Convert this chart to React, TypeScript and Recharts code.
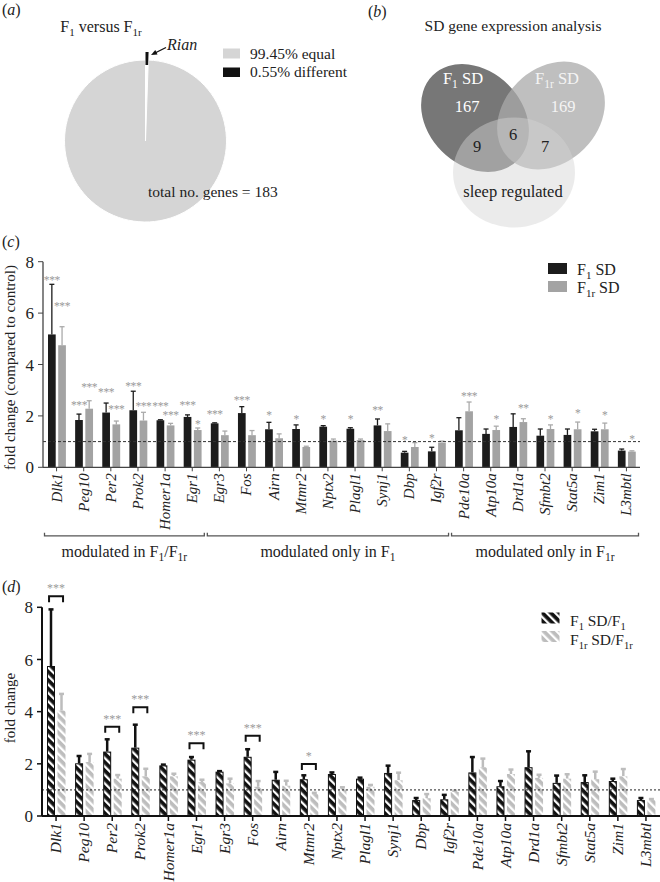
import React from "react";
import {
  BarChart, Bar, XAxis, YAxis, ReferenceLine, ReferenceArea,
  PieChart, Pie, Cell, ScatterChart, Scatter,
} from "recharts";

const FONT = '"Liberation Serif", "Times New Roman", Tinos, "DejaVu Serif", serif';
const INK = "#222";
const STAR = "#9a9a9a";

// (a) F1 versus F1r
const pieNames = ["different", "equal"];
const pieShares = [0.55, 99.45];
const totalGenes = 183;

// (b) SD gene expression analysis
const vennSetNames = ["F_{1} SD", "F_{1r} SD", "sleep regulated"];
const vennCounts = [167, 169, 9, 6, 7]; // F1 only, F1r only, F1∩sleep, all, F1r∩sleep

// (c) / (d) genes
const genes = [
  "Dlk1", "Peg10", "Per2", "Prok2", "Homer1a", "Egr1", "Egr3", "Fos", "Airn", "Mtmr2", "Nptx2",
  "Plagl1", "Synj1", "Dbp", "Igf2r", "Pde10a", "Atp10a", "Drd1a", "Sfmbt2", "Stat5a", "Zim1", "L3mbtl",
];
const groups = [
  { label: "modulated in F_{1}/F_{1r}", from: "Dlk1", to: "Egr1" },
  { label: "modulated only in F_{1}", from: "Egr3", to: "Igf2r" },
  { label: "modulated only in F_{1r}", from: "Pde10a", to: "L3mbtl" },
];

// (c) fold change compared to control
const cF1 = [5.17, 1.84, 2.13, 2.22, 1.83, 1.96, 1.71, 2.11, 1.48, 1.49, 1.58, 1.5, 1.63, 0.57, 0.62, 1.44, 1.3, 1.57, 1.23, 1.26, 1.4, 0.65];
const cF1Err = [1.95, 0.23, 0.37, 0.74, 0.02, 0.08, 0.02, 0.25, 0.27, 0.16, 0.04, 0.04, 0.25, 0.05, 0.16, 0.49, 0.19, 0.51, 0.26, 0.23, 0.08, 0.06];
const cF1r = [4.75, 2.28, 1.67, 1.82, 1.63, 1.45, 1.25, 1.25, 1.13, 0.79, 1.04, 1.06, 1.41, 0.79, 0.96, 2.18, 1.45, 1.76, 1.49, 1.48, 1.48, 0.61];
const cF1rErr = [0.72, 0.31, 0.13, 0.32, 0.08, 0.08, 0.16, 0.18, 0.17, 0.03, 0.06, 0.04, 0.28, 0.17, 0.06, 0.36, 0.15, 0.13, 0.16, 0.28, 0.24, 0.03];
const cF1Sig = ["***", "***", "***", "***", "***", "***", "***", "***", "*", "*", "*", "*", "**", "*", "*", "", "", "", "", "", "", ""];
const cF1rSig = ["***", "***", "***", "***", "***", "*", "", "", "", "", "", "", "", "", "", "***", "*", "**", "*", "*", "*", "*"];
// height (in fold change) at which each significance mark sits
const cF1SigAt = [7.38, 2.49, 3.01, 3.25, 2.46, 2.49, 2.14, 2.68, 2.12, 1.97, 1.95, 1.95, 2.3, 1.13, 1.22, 0, 0, 0, 0, 0, 0, 0];
const cF1rSigAt = [6.35, 3.21, 2.33, 2.46, 2.12, 1.77, 0, 0, 0, 0, 0, 0, 0, 0, 0, 2.85, 1.95, 2.4, 1.97, 2.18, 2.12, 1.17];

// (d) fold change SD / own control
const dF1 = [5.75, 2.02, 2.47, 2.62, 1.94, 2.16, 1.7, 2.27, 1.39, 1.41, 1.61, 1.43, 1.65, 0.61, 0.64, 1.67, 1.14, 1.87, 1.27, 1.3, 1.34, 0.61];
const dF1Err = [2.17, 0.28, 0.47, 0.88, 0.03, 0.1, 0.02, 0.29, 0.3, 0.15, 0.06, 0.04, 0.28, 0.08, 0.17, 0.59, 0.2, 0.61, 0.28, 0.26, 0.09, 0.08];
const dF1r = [4.04, 2.07, 1.43, 1.52, 1.52, 1.3, 1.25, 1.12, 1.16, 0.84, 1.02, 1.12, 1.37, 0.68, 0.92, 1.87, 1.61, 1.46, 1.43, 1.41, 1.52, 0.61];
const dF1rErr = [0.64, 0.31, 0.14, 0.29, 0.1, 0.09, 0.18, 0.22, 0.19, 0.05, 0.08, 0.07, 0.29, 0.16, 0.05, 0.33, 0.17, 0.12, 0.17, 0.29, 0.28, 0.04];
const dSigGenes = ["Dlk1", "Per2", "Prok2", "Egr1", "Fos", "Mtmr2"];
const dSigLevels = [8.42, 3.42, 4.17, 2.79, 3.08, 1.99];
const dSigMarks = ["***", "***", "***", "***", "***", "*"];

const rowsC = genes.map((gene, i) => ({
  gene, f1: cF1[i], f1Err: cF1Err[i], f1Sig: cF1Sig[i], f1SigAt: cF1SigAt[i],
  f1r: cF1r[i], f1rErr: cF1rErr[i], f1rSig: cF1rSig[i], f1rSigAt: cF1rSigAt[i],
}));
const rowsD = genes.map((gene, i) => ({
  gene, f1: dF1[i], f1Err: dF1Err[i], f1r: dF1r[i], f1rErr: dF1rErr[i],
}));

const ff = { fontFamily: FONT };

// "_{...}" marks a subscript
function rich(s: string, subSize: number, shift: number) {
  const parts = s.split(/(_\{[^}]*\})/).filter((p) => p !== "");
  let down = false;
  return parts.map((p, i) => {
    if (p.startsWith("_{")) {
      const el = <tspan key={i} dy={down ? 0 : shift} fontSize={subSize}>{p.slice(2, -1)}</tspan>;
      down = true;
      return el;
    }
    const el = <tspan key={i} dy={down ? -shift : 0}>{p}</tspan>;
    down = false;
    return el;
  });
}

function GeneTick(props: any) {
  const { x, y, payload, size } = props;
  return (
    <text x={x} y={y} transform={`rotate(-90 ${x} ${y})`} textAnchor="end" dy="0.33em"
      fontSize={size} fontStyle="italic" style={ff} fill={INK}>
      {payload.value}
    </text>
  );
}

type ShapeOpts = {
  valKey: string; errKey: string; sigKey?: string; sigAtKey?: string;
  fill: string; stroke?: string; errColor: string; errWidth: number;
};

const barShape = (o: ShapeOpts) => (props: any) => {
  const { x, y, width, height, payload } = props;
  const v = payload[o.valKey];
  const ppu = v > 0 ? height / v : 0;
  const cx = x + width / 2;
  const ey = y - payload[o.errKey] * ppu;
  const sig = o.sigKey ? payload[o.sigKey] : "";
  const sy = o.sigAtKey ? y - (payload[o.sigAtKey] - v) * ppu : ey - 8;
  return (
    <g>
      <line x1={cx} x2={cx} y1={y} y2={ey} stroke={o.errColor} strokeWidth={o.errWidth} />
      <line x1={cx - 2.5} x2={cx + 2.5} y1={ey} y2={ey} stroke={o.errColor} strokeWidth={o.errWidth} />
      <rect x={o.stroke ? x + 0.5 : x} y={o.stroke ? y + 0.5 : y} width={o.stroke ? width - 1 : width}
        height={o.stroke ? Math.max(height - 1, 0) : height} fill={o.fill}
        stroke={o.stroke || "none"} strokeWidth={1} />
      {sig ? (
        <text x={cx} y={sy + 6} textAnchor="middle" fontSize={11.5} letterSpacing={-0.4} style={ff}
          fill={STAR}>{sig}</text>
      ) : null}
    </g>
  );
};

const groupShape = (label: string) => (p: any) => {
  const { x, y, width, height } = p;
  const x1 = x + 1.5;
  const x2 = x + width - 1.5;
  const yb = y + height;
  return (
    <g>
      <path d={`M${x1},${y} V${yb} H${x2} V${y}`} fill="none" stroke="#555" strokeWidth={1.3} />
      <text x={(x1 + x2) / 2} y={yb + 21} textAnchor="middle" fontSize={16} style={ff} fill={INK}>
        {rich(label, 11.5, 4)}
      </text>
    </g>
  );
};

const sigShape = (mark: string) => (p: any) => {
  const { x, y, width, height } = p;
  const c = x + width / 2;
  return (
    <g>
      <path d={`M${c - 7},${y + height} V${y} H${c + 7} V${y + height}`} fill="none" stroke="#111" strokeWidth={2} />
      <text x={c} y={y - 4} textAnchor="middle" fontSize={12} style={ff} fill={STAR}>{mark}</text>
    </g>
  );
};

function PiePanel() {
  const rows = pieNames.map((name, i) => ({ name, value: pieShares[i] }));
  return (
    <PieChart width={330} height={230} margin={{ top: 0, right: 0, bottom: 0, left: 0 }}>
      <Pie data={rows} dataKey="value" cx={145.5} cy={141} outerRadius={81} startAngle={90} endAngle={-270}
        stroke="#fff" strokeWidth={1} isAnimationActive={false}>
        <Cell fill="#ffffff" />
        <Cell fill="#d5d5d5" />
      </Pie>
      <Pie data={rows} dataKey="value" cx={145.5} cy={141} innerRadius={76} outerRadius={89} startAngle={90}
        endAngle={-270} stroke="none" isAnimationActive={false}>
        <Cell fill="#111" />
        <Cell fill="transparent" />
      </Pie>
    </PieChart>
  );
}

// ellipse geometry in panel pixels
const vennLayout = [
  { x: 145, y: 118, rx: 60, ry: 47, rot: 45, fill: "#777777", op: 1 },
  { x: 221, y: 115.5, rx: 60, ry: 47, rot: -45, fill: "#aaaaaa", op: 0.75 },
  { x: 184, y: 172.5, rx: 61, ry: 55, rot: 0, fill: "#d3d3d3", op: 0.46 },
];
const vennTextPos = [
  { x: 133, y: 84, color: "#fff" }, { x: 227, y: 84, color: "#f4f4f4" }, { x: 183, y: 197, color: INK },
  { x: 137, y: 111.5, color: "#fff" }, { x: 233, y: 111.5, color: "#f4f4f4" },
  { x: 147, y: 152, color: INK }, { x: 183, y: 140, color: INK }, { x: 215, y: 152, color: INK },
];

function VennPanel() {
  const texts = [...vennSetNames, ...vennCounts.map(String)].map((t, i) => ({ ...vennTextPos[i], t }));
  return (
    <ScatterChart width={330} height={230} margin={{ top: 0, right: 0, bottom: 0, left: 0 }}>
      <XAxis type="number" dataKey="x" domain={[0, 330]} allowDataOverflow hide />
      <YAxis type="number" dataKey="y" domain={[0, 230]} allowDataOverflow reversed hide />
      <Scatter data={vennLayout} isAnimationActive={false}
        shape={(p: any) => (
          <ellipse cx={p.cx} cy={p.cy} rx={p.payload.rx} ry={p.payload.ry} fill={p.payload.fill}
            fillOpacity={p.payload.op} transform={`rotate(${p.payload.rot} ${p.cx} ${p.cy})`} />
        )} />
      <Scatter data={texts} isAnimationActive={false}
        shape={(p: any) => (
          <text x={p.cx} y={p.cy} textAnchor="middle" fontSize={16.5} style={ff} fill={p.payload.color}>
            {rich(p.payload.t, 11.5, 4)}
          </text>
        )} />
    </ScatterChart>
  );
}

function PanelC() {
  return (
    <BarChart width={660} height={380} data={rowsC} margin={{ top: 61.7, right: 20, bottom: 0, left: 0 }}
      barGap={2.5}>
      <XAxis dataKey="gene" interval={0} height={112.7} tickSize={4}
        tick={(p: any) => <GeneTick {...p} size={15} />}
        tickLine={{ stroke: "#444" }} axisLine={{ stroke: "#444", strokeWidth: 1.3 }} />
      <YAxis type="number" domain={[0, 8]} ticks={[0, 2, 4, 6, 8]} width={43} tickSize={5} tickMargin={4}
        tick={{ fontSize: 17, fill: INK, style: ff }}
        tickLine={{ stroke: "#444" }} axisLine={{ stroke: "#444", strokeWidth: 1.3 }} />
      <Bar dataKey="f1" barSize={7.7} isAnimationActive={false}
        shape={barShape({ valKey: "f1", errKey: "f1Err", sigKey: "f1Sig", sigAtKey: "f1SigAt", fill: "#1c1c1c", errColor: "#1c1c1c", errWidth: 1.3 })} />
      <Bar dataKey="f1r" barSize={7.7} isAnimationActive={false}
        shape={barShape({ valKey: "f1r", errKey: "f1rErr", sigKey: "f1rSig", sigAtKey: "f1rSigAt", fill: "#a3a3a3", errColor: "#aaaaaa", errWidth: 1.3 })} />
      <ReferenceLine y={1} stroke="#333" strokeDasharray="3 2" strokeWidth={1} />
      {groups.map((g) => (
        <ReferenceArea key={g.from} x1={g.from} x2={g.to} y1={-2.67} y2={-2.55} ifOverflow="visible"
          shape={groupShape(g.label)} />
      ))}
    </BarChart>
  );
}

function PanelD() {
  return (
    <BarChart width={660} height={312} data={rowsD} margin={{ top: 37.3, right: 0, bottom: 0, left: 0 }}
      barGap={2.5}>
      <defs>
        <pattern id="hatchK" patternUnits="userSpaceOnUse" width={6} height={6} patternTransform="rotate(-45)">
          <rect width={6} height={6} fill="#111" />
          <rect width={2.3} height={6} fill="#fff" />
        </pattern>
        <pattern id="hatchG" patternUnits="userSpaceOnUse" width={6} height={6} patternTransform="rotate(-45)">
          <rect width={6} height={6} fill="#bdbdbd" />
          <rect width={2.3} height={6} fill="#fff" />
        </pattern>
      </defs>
      <XAxis dataKey="gene" interval={0} height={66} tickSize={5}
        tick={(p: any) => <GeneTick {...p} size={15.5} />}
        tickLine={{ stroke: "#111", strokeWidth: 1.5 }} axisLine={{ stroke: "#111", strokeWidth: 2 }} />
      <YAxis type="number" domain={[0, 8]} ticks={[0, 2, 4, 6, 8]} width={42} tickSize={5} tickMargin={4}
        tick={{ fontSize: 17, fill: INK, style: ff }}
        tickLine={{ stroke: "#111", strokeWidth: 1.5 }} axisLine={{ stroke: "#111", strokeWidth: 2 }} />
      <Bar dataKey="f1" barSize={8} isAnimationActive={false}
        shape={barShape({ valKey: "f1", errKey: "f1Err", fill: "url(#hatchK)", stroke: "#111", errColor: "#111", errWidth: 2.5 })} />
      <Bar dataKey="f1r" barSize={8} isAnimationActive={false}
        shape={barShape({ valKey: "f1r", errKey: "f1rErr", fill: "url(#hatchG)", errColor: "#bdbdbd", errWidth: 2.5 })} />
      <ReferenceLine y={1} stroke="#222" strokeDasharray="2 2" strokeWidth={1} />
      {dSigGenes.map((g, i) => (
        <ReferenceArea key={g} x1={g} x2={g} y1={dSigLevels[i] - 0.23} y2={dSigLevels[i]} ifOverflow="visible"
          shape={sigShape(dSigMarks[i])} />
      ))}
    </BarChart>
  );
}

function Letter({ x, y, ch }: { x: number; y: number; ch: string }) {
  return (
    <text x={x} y={y} fontSize={16} fill={INK}>
      (<tspan fontStyle="italic">{ch}</tspan>)
    </text>
  );
}

function Overlay() {
  return (
    <svg width={660} height={882} style={{ position: "absolute", left: 0, top: 0, pointerEvents: "none", fontFamily: FONT }}>
      <defs>
        <pattern id="legK" patternUnits="userSpaceOnUse" width={6} height={6} patternTransform="rotate(-45)">
          <rect width={6} height={6} fill="#111" />
          <rect width={2.3} height={6} fill="#fff" />
        </pattern>
        <pattern id="legG" patternUnits="userSpaceOnUse" width={6} height={6} patternTransform="rotate(-45)">
          <rect width={6} height={6} fill="#bdbdbd" />
          <rect width={2.3} height={6} fill="#fff" />
        </pattern>
      </defs>
      <Letter x={2} y={15} ch="a" />
      <Letter x={368} y={17} ch="b" />
      <Letter x={2} y={247} ch="c" />
      <Letter x={2} y={592} ch="d" />

      {/* (a) */}
      <text x={101} y={32} textAnchor="middle" fontSize={16} fill={INK}>{rich("F_{1} versus F_{1r}", 11, 4)}</text>
      <text x={167} y={50} fontSize={16} fontStyle="italic" fill={INK}>Rian</text>
      <line x1={166} y1={47.5} x2={155} y2={53} stroke="#111" strokeWidth={1.3} />
      <polygon points="151,55 157.5,54.5 155.3,50.1" fill="#111" />
      <rect x={223} y={48.5} width={17} height={10} fill="#d5d5d5" />
      <text x={250} y={58.5} fontSize={15.5} fill={INK}>{pieShares[1]}% equal</text>
      <rect x={223} y={67.5} width={17} height={9.5} fill="#111" />
      <text x={250} y={77} fontSize={15.5} fill={INK}>{pieShares[0]}% different</text>
      <text x={148} y={197} fontSize={15.5} fill={INK}>total no. genes = {totalGenes}</text>

      {/* (b) */}
      <text x={513} y={31} textAnchor="middle" fontSize={15.5} fill={INK}>SD gene expression analysis</text>

      {/* (c) */}
      <text x={15} y={367.5} transform="rotate(-90 15 367.5)" textAnchor="middle" fontSize={15} fill={INK}>
        fold change (compared to control)
      </text>
      <rect x={548} y={263} width={19} height={11} fill="#1c1c1c" />
      <text x={577} y={274.5} fontSize={16} fill={INK}>{rich("F_{1} SD", 11, 4)}</text>
      <rect x={548} y={281} width={19} height={11} fill="#a3a3a3" />
      <text x={577} y={292.5} fontSize={16} fill={INK}>{rich("F_{1r} SD", 11, 4)}</text>

      {/* (d) */}
      <text x={15} y={708} transform="rotate(-90 15 708)" textAnchor="middle" fontSize={15} fill={INK}>
        fold change
      </text>
      <rect x={541.5} y={612.5} width={18} height={11} fill="url(#legK)" />
      <text x={570} y={626} fontSize={15.5} fill={INK}>{rich("F_{1} SD/F_{1}", 10.5, 3.5)}</text>
      <rect x={541.5} y={631} width={18} height={11} fill="url(#legG)" />
      <text x={570} y={645} fontSize={15.5} fill={INK}>{rich("F_{1r} SD/F_{1r}", 10.5, 3.5)}</text>
    </svg>
  );
}

export default function App() {
  return (
    <div style={{ position: "absolute", left: 0, top: 0, width: 660, height: 882, background: "#fff", fontFamily: FONT }}>
      <div style={{ position: "absolute", left: 0, top: 0 }}><PiePanel /></div>
      <div style={{ position: "absolute", left: 330, top: 0 }}><VennPanel /></div>
      <div style={{ position: "absolute", left: 0, top: 200 }}><PanelC /></div>
      <div style={{ position: "absolute", left: 0, top: 570 }}><PanelD /></div>
      <Overlay />
    </div>
  );
}
